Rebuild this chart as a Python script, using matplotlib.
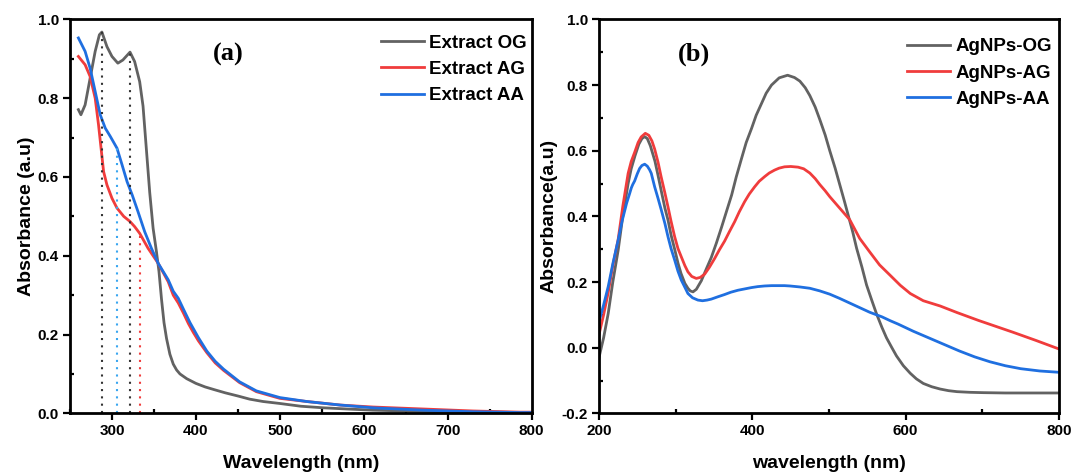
import numpy as np
import matplotlib
matplotlib.use('Agg')
import matplotlib.pyplot as plt
from matplotlib.ticker import MultipleLocator

#---------------------------------------------------------
# (a) extracts: wavelength (nm) / absorbance
#---------------------------------------------------------
og_wl = [260, 263, 268, 274, 280, 285, 288, 294, 300, 307, 313, 321.5, 327, 333, 337,
         341, 345, 349, 353, 356, 359, 362, 365, 369, 373, 377, 381, 389, 400, 411,
         422, 435, 450, 464, 480, 500, 525, 552, 580, 611, 650, 691, 740, 800]
og_abs = [0.771, 0.758, 0.783, 0.851, 0.919, 0.961, 0.968, 0.931, 0.906, 0.889, 0.897, 0.917, 0.893, 0.842, 0.780,
          0.670, 0.560, 0.470, 0.410, 0.360, 0.290, 0.230, 0.190, 0.150, 0.125, 0.110, 0.100, 0.088, 0.076, 0.067,
          0.060, 0.052, 0.044, 0.036, 0.030, 0.025, 0.018, 0.014, 0.011, 0.008, 0.006, 0.004, 0.003, 0.002]

ag_wl = [260, 268, 274, 280, 284, 287, 290, 294, 300, 306, 314, 321.5, 327, 333, 343,
         355, 367, 373, 379, 385, 391, 397, 403, 413, 423, 433, 452, 472, 500, 532,
         572, 611, 671, 730, 786, 800]
ag_abs = [0.906, 0.885, 0.855, 0.800, 0.732, 0.673, 0.614, 0.580, 0.546, 0.521, 0.500, 0.487, 0.474, 0.457, 0.419,
          0.381, 0.334, 0.300, 0.280, 0.255, 0.228, 0.205, 0.184, 0.154, 0.128, 0.109, 0.078, 0.055, 0.038, 0.030,
          0.021, 0.016, 0.011, 0.006, 0.003, 0.003]

aa_wl = [260, 268, 274, 280, 286, 292, 298, 306, 312, 318, 324, 331, 339, 347, 355,
         367, 373, 379, 385, 393, 403, 413, 423, 433, 452, 472, 500, 532, 572, 611,
         671, 730, 786, 800]
aa_abs = [0.953, 0.919, 0.876, 0.817, 0.758, 0.724, 0.703, 0.673, 0.631, 0.588, 0.555, 0.512, 0.461, 0.419, 0.381,
          0.339, 0.310, 0.292, 0.265, 0.230, 0.192, 0.158, 0.132, 0.112, 0.080, 0.057, 0.040, 0.030, 0.021, 0.014,
          0.008, 0.004, 0.002, 0.002]

# peak markers (dotted drop lines)
peak_wl = [288, 321.5, 305.6, 333.4]
peak_abs = [0.968, 0.917, 0.673, 0.457]
peak_col = ['#333333', '#333333', '#3aa6f0', '#f03c3c']

#---------------------------------------------------------
# (b) AgNPs
#---------------------------------------------------------
np_og_wl = [200, 206, 212, 218, 225, 231, 238, 242, 247, 252, 256, 259.5, 263, 267, 273,
            277, 281, 286, 290, 294, 299, 303, 307, 312, 316, 319, 322.6, 327, 333.5, 340,
            346.5, 353, 360, 366, 373, 379, 386, 392, 399, 405, 412, 418, 425, 435, 446,
            455, 462, 469, 475, 482, 488, 495, 501, 508, 514, 520, 525, 531, 536, 543,
            549, 556, 562, 569, 575, 582, 588, 597, 606, 614, 623, 634, 645, 656, 667,
            684, 701, 730, 760, 800]
np_og_abs = [-0.030, 0.030, 0.104, 0.200, 0.297, 0.400, 0.500, 0.545, 0.585, 0.620, 0.637, 0.643, 0.637, 0.615, 0.568,
             0.525, 0.480, 0.425, 0.389, 0.343, 0.297, 0.258, 0.226, 0.196, 0.181, 0.173, 0.170, 0.178, 0.204, 0.240,
             0.275, 0.318, 0.368, 0.413, 0.465, 0.520, 0.577, 0.625, 0.668, 0.708, 0.744, 0.775, 0.800, 0.822, 0.830,
             0.823, 0.812, 0.792, 0.768, 0.733, 0.695, 0.648, 0.600, 0.547, 0.497, 0.447, 0.404, 0.352, 0.303, 0.245,
             0.191, 0.143, 0.103, 0.062, 0.030, 0.000, -0.025, -0.055, -0.078, -0.095, -0.109, -0.119, -0.126, -0.131, -0.134,
             -0.136, -0.137, -0.138, -0.138, -0.138]

np_ag_wl = [200, 206, 212, 218, 225, 231, 238, 242, 246.5, 251, 255, 260.4, 265, 269, 272.6,
            277, 281, 285.6, 290, 294, 298.7, 303, 307.3, 312, 316, 321, 326.9, 332, 337.8, 344,
            350.9, 357, 363.9, 370, 377, 383, 390, 396, 403, 409, 416, 422, 429, 435, 442,
            450, 459.6, 467, 475, 482, 488, 495, 501, 514, 527, 540, 553, 566, 580, 593,
            606, 623, 645, 667, 695, 740, 770, 800]
np_ag_abs = [0.040, 0.100, 0.168, 0.250, 0.330, 0.430, 0.531, 0.567, 0.595, 0.625, 0.642, 0.653, 0.647, 0.630, 0.605,
             0.565, 0.521, 0.475, 0.429, 0.385, 0.338, 0.302, 0.277, 0.250, 0.231, 0.217, 0.211, 0.214, 0.224, 0.245,
             0.272, 0.298, 0.325, 0.353, 0.384, 0.414, 0.445, 0.468, 0.490, 0.507, 0.521, 0.532, 0.541, 0.547, 0.551,
             0.552, 0.550, 0.545, 0.532, 0.515, 0.497, 0.478, 0.460, 0.425, 0.390, 0.333, 0.292, 0.252, 0.220, 0.190,
             0.165, 0.143, 0.127, 0.107, 0.083, 0.047, 0.022, -0.004]

np_aa_wl = [200, 206, 212, 218, 225, 230, 236, 240, 242.2, 244, 246.5, 250, 253, 256, 259.6,
            263, 266, 268.2, 272.6, 277, 281.3, 286, 290, 294, 298.7, 303, 307.3, 312, 316, 322,
            329, 335, 341, 346.5, 355, 363.9, 372, 381.3, 390, 398.6, 407, 416, 425, 433.4, 442,
            449, 462, 475, 488, 501, 514, 527, 540, 553, 569, 580, 590, 600, 610, 620,
            630, 650, 670, 690, 710, 730, 750, 775, 800]
np_aa_abs = [0.079, 0.130, 0.186, 0.255, 0.328, 0.385, 0.440, 0.470, 0.487, 0.497, 0.508, 0.530, 0.546, 0.555, 0.559,
             0.553, 0.542, 0.531, 0.490, 0.455, 0.419, 0.378, 0.338, 0.302, 0.267, 0.233, 0.206, 0.184, 0.165, 0.152,
             0.145, 0.143, 0.145, 0.148, 0.155, 0.162, 0.169, 0.175, 0.179, 0.183, 0.186, 0.188, 0.189, 0.189, 0.189,
             0.188, 0.185, 0.181, 0.173, 0.163, 0.150, 0.136, 0.122, 0.108, 0.094, 0.082, 0.072, 0.061, 0.050, 0.040,
             0.030, 0.010, -0.010, -0.028, -0.043, -0.055, -0.064, -0.071, -0.075]

GRAY = '#626262'
RED = '#f03c3c'
BLUE = '#1f6fe0'

plt.rcParams['font.family'] = ['Liberation Sans', 'DejaVu Sans']
plt.rcParams['font.weight'] = 'bold'
plt.rcParams['axes.unicode_minus'] = False

fig = plt.figure(figsize=(10.72, 4.74), dpi=100)
ax1 = fig.add_axes([70 / 1072, 0.128, 461.7 / 1072, 0.831])
ax2 = fig.add_axes([599 / 1072, 0.128, 460 / 1072, 0.831])

def StyleAxes(ax):
    for sp in ax.spines.values():
        sp.set_linewidth(2.0)
    ax.tick_params(which='major', direction='out', length=5, width=1.6, labelsize=11, pad=3)
    ax.tick_params(which='minor', direction='in', length=3, width=1.6)
    ax.tick_params(which='both', top=False, right=False)
    for lbl in ax.get_xticklabels() + ax.get_yticklabels():
        lbl.set_fontweight('bold')

def AddLegend(ax, anchor):
    ax.legend(loc='upper right', bbox_to_anchor=anchor, frameon=False,
              prop=dict(weight='bold', size=13.5), handlelength=2.3, handletextpad=0.3,
              labelspacing=0.48, borderaxespad=0, borderpad=0)

# ---- panel (a)
ax1.plot(og_wl, og_abs, color=GRAY, lw=2.0, label='Extract OG')
ax1.plot(ag_wl, ag_abs, color=RED, lw=2.0, label='Extract AG')
ax1.plot(aa_wl, aa_abs, color=BLUE, lw=2.0, label='Extract AA')
for x, h, c in zip(peak_wl, peak_abs, peak_col):
    ax1.vlines(x, 0, h, colors=c, linestyles=(0, (1, 2.5)), lw=1.5)

ax1.set_xlim(250, 800)
ax1.set_ylim(0, 1.0)
ax1.xaxis.set_major_locator(MultipleLocator(100))
ax1.xaxis.set_minor_locator(MultipleLocator(50))
ax1.yaxis.set_major_locator(MultipleLocator(0.2))
ax1.yaxis.set_minor_locator(MultipleLocator(0.1))
ax1.set_xlabel('Wavelength (nm)', fontsize=14, fontweight='bold', labelpad=12)
ax1.set_ylabel('Absorbance (a.u)', fontsize=14, fontweight='bold', labelpad=2)
StyleAxes(ax1)
ax1.text(0.342, 0.912, '(a)', transform=ax1.transAxes, ha='center', va='center',
         fontsize=19, fontweight='bold', family='Liberation Serif')
AddLegend(ax1, (0.990, 0.961))

# ---- panel (b)
ax2.plot(np_og_wl, np_og_abs, color=GRAY, lw=2.0, label='AgNPs-OG')
ax2.plot(np_ag_wl, np_ag_abs, color=RED, lw=2.0, label='AgNPs-AG')
ax2.plot(np_aa_wl, np_aa_abs, color=BLUE, lw=2.0, label='AgNPs-AA')

ax2.set_xlim(200, 800)
ax2.set_ylim(-0.2, 1.0)
ax2.xaxis.set_major_locator(MultipleLocator(200))
ax2.xaxis.set_minor_locator(MultipleLocator(100))
ax2.yaxis.set_major_locator(MultipleLocator(0.2))
ax2.yaxis.set_minor_locator(MultipleLocator(0.1))
ax2.set_xlabel('wavelength (nm)', fontsize=14, fontweight='bold', labelpad=12)
ax2.set_ylabel('Absorbance(a.u)', fontsize=14, fontweight='bold', labelpad=3)
StyleAxes(ax2)
ax2.text(0.207, 0.912, '(b)', transform=ax2.transAxes, ha='center', va='center',
         fontsize=19, fontweight='bold', family='Liberation Serif')
AddLegend(ax2, (0.985, 0.952))

plt.savefig('out.png', dpi=100)
